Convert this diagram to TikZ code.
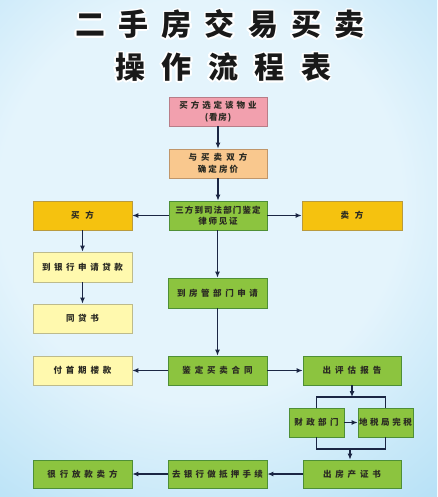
\documentclass[tikz,border=0pt]{standalone}
\usepackage{fontspec}
\usepackage{contour}
\usetikzlibrary{arrows.meta}
\newfontfamily\cjk{Noto Sans CJK SC}
\newcommand\Ls[2]{{\addfontfeature{LetterSpace=#1}#2}}
\definecolor{bgin}{HTML}{E4F4FC}
\definecolor{bgmid}{HTML}{A6DAF4}
\definecolor{bgout}{HTML}{4AAAE3}
\definecolor{bgedge}{HTML}{3A9CDC}
\definecolor{pinkf}{HTML}{F2A0AE}
\definecolor{pinkd}{HTML}{B87D88}
\definecolor{orangef}{HTML}{F9C88E}
\definecolor{oranged}{HTML}{C0966A}
\definecolor{greenf}{HTML}{8CC43F}
\definecolor{greend}{HTML}{4E8F36}
\definecolor{goldf}{HTML}{F5C20F}
\definecolor{goldd}{HTML}{B99A3E}
\definecolor{lyf}{HTML}{FFF9AE}
\definecolor{lyd}{HTML}{BDBB8C}
\definecolor{linec}{HTML}{1B2644}
\definecolor{textc}{HTML}{2A2A22}
\pgfdeclareradialshading{bgshade}{\pgfpoint{0bp}{0bp}}{color(0bp)=(bgin); color(9bp)=(bgin); color(20bp)=(bgmid); color(30bp)=(bgout); color(36bp)=(bgedge); color(50bp)=(bgedge)}
\contourlength{1.6pt}
\contournumber{24}
\begin{document}
\begin{tikzpicture}[x=1pt,y=-1pt,
  box/.style={minimum width=99pt, minimum height=29pt, inner sep=0pt, line width=0.7pt,
    font=\cjk\bfseries\fontsize{8.5}{11.5}\selectfont, text=textc, align=center},
  gbox/.style={box, fill=greenf, draw=greend},
  pbox/.style={box, fill=pinkf, draw=pinkd},
  obox/.style={box, fill=orangef, draw=oranged},
  dbox/.style={box, fill=goldf, draw=goldd},
  ybox/.style={box, fill=lyf, draw=lyd},
  conn/.style={draw=linec, line width=1.1pt, -{Latex[length=6pt,width=5pt]}},
  plain/.style={draw=linec, line width=1.1pt},
  title/.style={font=\cjk\bfseries\fontsize{30}{32}\selectfont, text=black!90, inner sep=0pt}]
\useasboundingbox (0,0) rectangle (437,497);
\begin{scope}
\clip (0,0) rectangle (437,497);
\shade[shading=bgshade] (200,200) circle (560);
\end{scope}
% title
\node[title] (t1) at (220,25) {\contour{white}{\Ls{44}{二手房交易买卖}}};
\node[title] (t2) at (223,68) {\contour{white}{\Ls{55}{操作流程表}}};
% boxes
\node[pbox, minimum width=98pt] (b1) at (218,111.5) {\Ls{35}{买方选定该物业}\\\Ls{10}{(看房)}};
\node[obox, minimum width=98pt] (b2) at (218,163.5) {\Ls{48}{与买卖双方}\\\Ls{25}{确定房价}};
\node[gbox, minimum width=98pt] (b3) at (218,215.5) {\Ls{13}{三方到司法部门鉴定}\\\Ls{20}{律师见证}};
\node[dbox] (buyer) at (82.5,215.5) {\Ls{70}{买方}};
\node[dbox, minimum width=100pt] (seller) at (352,215.5) {\Ls{70}{卖方}};
\node[ybox, minimum height=30pt] (loan) at (82.5,267) {\Ls{42}{到银行申请贷款}};
\node[ybox] (tongdai) at (82.5,318.5) {\Ls{42}{同贷书}};
\node[gbox, minimum height=30pt] (fangguan) at (217.5,293) {\Ls{42}{到房管部门申请}};
\node[ybox] (shoufu) at (82.5,370.5) {\Ls{45}{付首期楼款}};
\node[gbox] (hetong) at (217.5,370.5) {\Ls{45}{鉴定买卖合同}};
\node[gbox, minimum width=98pt] (pinggu) at (352,370.5) {\Ls{48}{出评估报告}};
\node[gbox, minimum width=55pt] (caizheng) at (316.5,422.5) {\Ls{40}{财政部门}};
\node[gbox, minimum width=55pt] (dishui) at (385.5,422.5) {\Ls{30}{地税局完税}};
\node[gbox, minimum width=98pt, minimum height=28pt] (chanzheng) at (352,474) {\Ls{45}{出房产证书}};
\node[gbox, minimum height=28pt] (diya) at (217.5,474) {\Ls{38}{去银行做抵押手续}};
\node[gbox, minimum height=28pt] (fangkuan) at (82.5,474) {\Ls{45}{很行放款卖方}};
% connectors
\draw[conn] (b1) -- (b2);
\draw[conn] (b2) -- (b3);
\draw[conn] (b3) -- (buyer);
\draw[conn] (b3) -- (seller);
\draw[conn] (buyer) -- (loan);
\draw[conn] (loan) -- (tongdai);
\draw[conn] (b3.south -| fangguan) -- (fangguan);
\draw[conn] (fangguan) -- (hetong);
\draw[conn] (hetong) -- (shoufu);
\draw[conn] (hetong) -- (pinggu);
\coordinate (topj) at (352,397);
\coordinate (botj) at (350,449);
\draw[plain] (caizheng.north) |- (topj) -| (dishui.north);
\draw[conn] (pinggu.south) -- (topj);
\draw[conn] (caizheng) -- (dishui);
\draw[plain] (caizheng.south) |- (botj) -| (dishui.south);
\draw[conn] (botj) -- (botj |- chanzheng.north);
\draw[conn] (chanzheng) -- (diya);
\draw[conn] (diya) -- (fangkuan);
\end{tikzpicture}
\end{document}
